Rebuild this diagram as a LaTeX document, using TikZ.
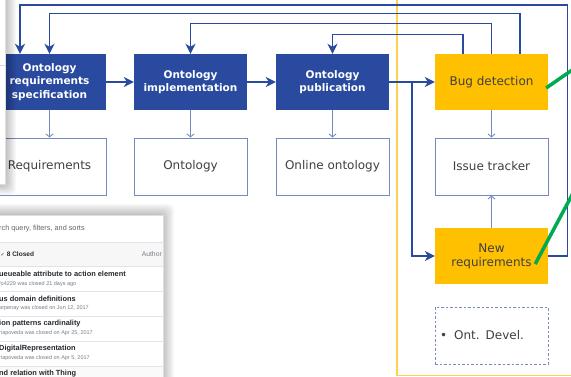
\documentclass[tikz,border=0pt]{standalone}
\usepackage{fontspec}
\setmainfont{DejaVu Sans}
\newfontfamily\ghfont{Liberation Sans}
\usetikzlibrary{arrows.meta,calc}

\definecolor{ontoblue}{RGB}{41,74,158}
\definecolor{boxline}{RGB}{118,138,190}
\definecolor{bugorange}{RGB}{255,192,0}
\definecolor{lanecol}{RGB}{255,208,80}
\definecolor{pointer}{RGB}{0,170,80}
\definecolor{txt}{RGB}{64,64,64}
\definecolor{ghtext}{RGB}{36,41,46}
\definecolor{ghgray}{RGB}{120,126,134}
\definecolor{ghline}{RGB}{225,228,232}

\begin{document}
\begin{tikzpicture}[x=1pt,y=-1pt,
  activity/.style={fill=ontoblue, text=white, font=\fontsize{10.5}{13.5}\selectfont\bfseries,
    minimum width=113pt, minimum height=56pt, align=center, inner sep=0pt},
  product/.style={draw=boxline, line width=0.9pt, fill=white, text=txt, font=\fontsize{12}{14}\selectfont,
    minimum width=113pt, minimum height=57pt, align=center, inner sep=0pt},
  issue/.style={fill=bugorange, text=txt, font=\fontsize{12}{14}\selectfont,
    minimum width=113pt, minimum height=56pt, align=center, inner sep=0pt},
  flow/.style={draw=ontoblue, line width=1.8pt, -{Stealth[length=10pt,width=10pt,inset=3pt]}},
  feedback/.style={draw=ontoblue, line width=1.4pt, -{Stealth[length=10pt,width=10pt,inset=3pt]}},
  produces/.style={draw=boxline, line width=0.9pt, -{Straight Barb[length=3pt,width=7pt]}},
  ghtitle/.style={anchor=west, inner sep=0pt, text=ghtext, font=\ghfont\fontsize{7.4}{8}\selectfont\bfseries},
  ghsub/.style={anchor=west, inner sep=0pt, text=ghgray, font=\ghfont\fontsize{5.5}{6}\selectfont},
  panel/.style={fill=white, draw=gray!25, line width=0.6pt},
  haze/.style={fill=black, opacity=0.022, rounded corners=5pt}
]
\useasboundingbox (0,0) rectangle (571,377);
\clip (0,0) rectangle (571,377);

% lane of the maintenance activities
\draw[lanecol, line width=1.3pt] (397,-5) -- (397,375.5) -- (580,375.5);

% activities
\node[activity] (reqspec) at (49.5,82) {Ontology\\requirements\\specification};
\node[activity] (impl) at (190.5,82) {Ontology\\implementation};
\node[activity] (pub) at (332.5,82) {Ontology\\publication};
\node[issue] (bug) at (491.5,82) {Bug detection};
\node[issue] (newreq) at (491.5,256) {New\\requirements};

% outputs
\node[product] (req) at (49.5,166.5) {Requirements};
\node[product] (onto) at (190.5,166.5) {Ontology};
\node[product] (online) at (332.5,166.5) {Online ontology};
\node[product] (tracker) at (491.5,166.5) {Issue tracker};
\node[product, dashed, dash pattern=on 2.5pt off 2pt, text width=103pt, align=left] (devel) at (491.5,335.5)
  {\textbullet\hspace{7pt}Ont. Devel.};

\draw[flow] (reqspec.east) -- (impl.west);
\draw[flow] (impl.east) -- (pub.west);
\draw[flow] (pub.east) -- (bug.west);
\coordinate (split) at ($(pub.east)!0.5!(bug.west)$);
\draw[feedback] (split) |- (newreq.west);

% loops back from maintenance
\draw[feedback] (newreq.east) -| ++(19,-251) -| ([xshift=-29.5pt]reqspec.north);
\draw[feedback] ([xshift=28.5pt]bug.north) -- ++(0,-40) -| (reqspec.north);
\draw[feedback] (bug.north) -- ++(0,-30) -| (impl.north);
\draw[feedback] ([xshift=-28.5pt]bug.north) -- ++(0,-19) -| (pub.north);

\foreach \a/\b in {reqspec/req, impl/onto, pub/online, bug/tracker}
  \draw[produces] (\a.south) -- (\b.north);
\draw[produces] (newreq.north) -- (tracker.south);

% pointers
\coordinate (ptrbug) at (580,64.5);
\coordinate (ptrnew) at (580,180);
\draw[pointer, line width=3.5pt] ([xshift=-2pt,yshift=-6pt]bug.east) -- (ptrbug);
\draw[pointer, line width=3.5pt] ([xshift=-13pt,yshift=-8pt]newreq.east) -- (ptrnew);

% screenshots with soft shadows
\foreach \r in {0,...,11}
  \fill[haze] (-30,-20) rectangle (5+\r,184+\r);
\filldraw[panel] (-20,-10) rectangle (5,184);
\draw[gray!30, line width=0.6pt] (-20,65) -- (5,65);

\foreach \r in {0,...,11}
  \fill[haze] (-30,215-\r) rectangle (163+\r,400);
\filldraw[panel] (-20,215) rectangle (163,400);
\fill[gray!6] (-20,242.5) rectangle (163,266);
\fill[gray!4] (-20,366) rectangle (163,400);
\foreach \y in {242.5,266,291,316,341,366}
  \draw[ghline, line width=0.6pt] (-20,\y) -- (163,\y);

\node[anchor=west, inner sep=0pt, text=ghgray!80!black, font=\ghfont\fontsize{7.3}{8}\selectfont] (search) at (-1,229)
  {rch query, filters, and sorts};
\node[anchor=west, inner sep=0pt, text=ghtext, font=\ghfont\fontsize{6.5}{7}\selectfont\bfseries] (closed) at (0.5,254)
  {{\fontspec{DejaVu Sans}\fontsize{5}{7}\selectfont ✓}\hspace{2pt}8 Closed};
\node[anchor=east, inner sep=0pt, text=ghgray, font=\ghfont\fontsize{6.8}{7}\selectfont] (author) at (162,254) {Author};

\node[ghtitle] (title1) at (-1,274) {ueueable attribute to action element};
\node[ghsub] (sub1) at (-1,284) {fo4229 was closed 21 days ago};
\node[ghtitle] (title2) at (-1,299) {us domain definitions};
\node[ghsub] (sub2) at (-1,308.5) {arpenay was closed on Jun 12, 2017};
\node[ghtitle] (title3) at (-1,324) {ion patterns cardinality};
\node[ghsub] (sub3) at (-1,333.5) {riapoveda was closed on Apr 25, 2017};
\node[ghtitle] (title4) at (-1,349) {DigitalRepresentation};
\node[ghsub] (sub4) at (-1,358.5) {riapoveda was closed on Apr 5, 2017};
\node[ghtitle] (title5) at (-1,373.5) {nd relation with Thing};
\end{tikzpicture}
\end{document}
